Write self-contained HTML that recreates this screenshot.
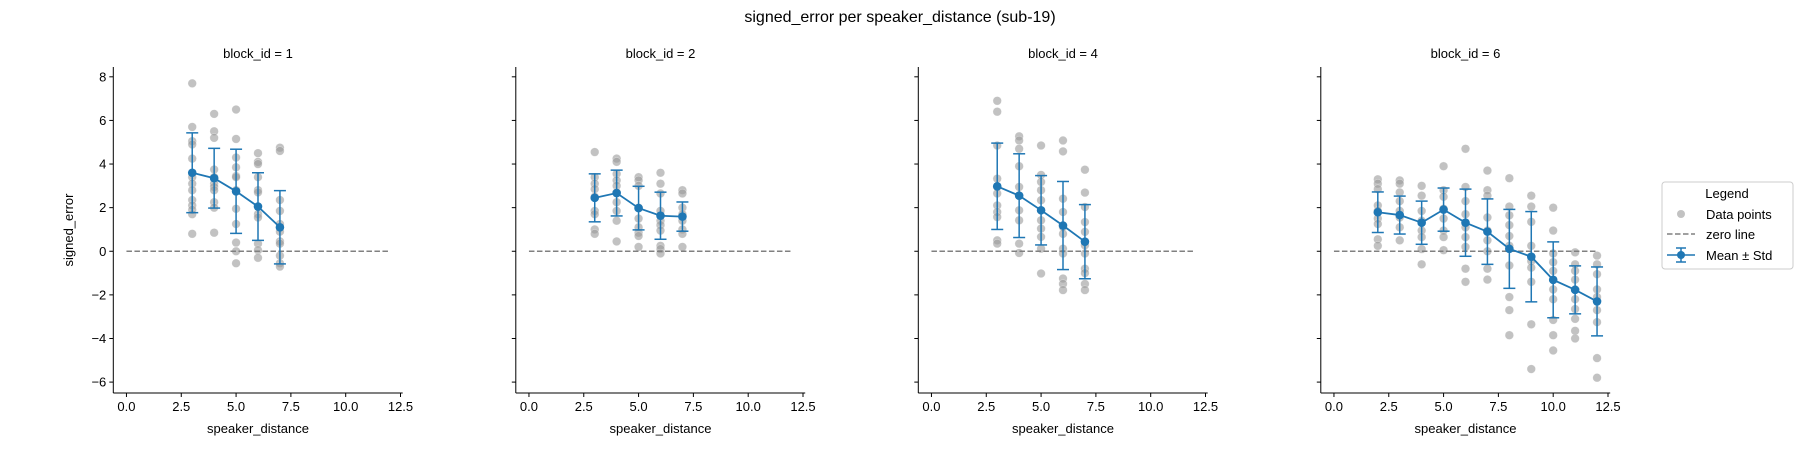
<!DOCTYPE html>
<html><head><meta charset="utf-8"><style>
body{margin:0;background:#fff;}
svg{display:block;font-family:"Liberation Sans","DejaVu Sans",sans-serif;}
</style></head><body>
<svg id="chart" width="1800" height="450">
<text x="900" y="22" text-anchor="middle" font-size="16" fill="#000">signed_error per speaker_distance (sub-19)</text>
<g>
<rect x="1662" y="182" width="131" height="87" rx="3" fill="#fff" stroke="#ccc"/>
<text x="1727" y="198" text-anchor="middle" font-size="13">Legend</text>
<circle cx="1681" cy="214" r="4" fill="#999" fill-opacity="0.6"/>
<text x="1706" y="219" font-size="13">Data points</text>
<line x1="1667" y1="234" x2="1695" y2="234" stroke="#808080" stroke-width="1.5" stroke-dasharray="5.5,2.5"/>
<text x="1706" y="239" font-size="13">zero line</text>
<line x1="1667" y1="255" x2="1695" y2="255" stroke="#1f77b4" stroke-width="1.5"/>
<line x1="1681" y1="248" x2="1681" y2="262" stroke="#1f77b4" stroke-width="1.5"/>
<line x1="1676" y1="248" x2="1686" y2="248" stroke="#1f77b4" stroke-width="1.5"/>
<line x1="1676" y1="262" x2="1686" y2="262" stroke="#1f77b4" stroke-width="1.5"/>
<circle cx="1681" cy="255" r="4" fill="#1f77b4"/>
<text x="1706" y="260" font-size="13">Mean ± Std</text>
</g>
</svg>
<script>
const panelTitles = ["block_id = 1","block_id = 2","block_id = 4","block_id = 6"];
const xTicks = [0,2.5,5,7.5,10,12.5];
const xTickLabels = ["0.0","2.5","5.0","7.5","10.0","12.5"];
const yTicks = [-6,-4,-2,0,2,4,6,8];
const yTickLabels = ["\u22126","\u22124","\u22122","0","2","4","6","8"];
const p1Dist = [3,4,5,6,7];
const p1Points = [
 [7.7,5.7,5.05,4.9,4.25,3.4,3.1,2.8,2.35,2.1,1.9,1.7,0.8],
 [6.3,5.5,5.2,3.75,3.4,3.1,2.95,2.8,2.25,2.0,0.85],
 [6.5,5.15,4.3,3.85,3.45,3.4,2.8,1.95,1.25,0.4,0,-0.55],
 [4.5,4.1,4.0,3.4,2.8,2.7,1.7,1.55,0.35,0.05,-0.3],
 [4.75,4.6,2.35,1.85,1.25,0.9,0.45,0.35,-0.2,-0.55,-0.7]];
const p1Mean = [3.6,3.35,2.75,2.05,1.1];
const p1Std = [1.83,1.37,1.93,1.55,1.68];
const p2Dist = [3,4,5,6,7];
const p2Points = [
 [4.55,3.4,3.1,2.85,2.5,1.85,1.7,1.0,0.8],
 [4.25,4.1,3.55,3.25,3.0,2.7,2.25,1.85,1.4,0.45],
 [3.4,3.25,3.0,2.0,1.5,1.1,0.85,0.7,0.2],
 [3.6,3.1,2.65,1.85,1.4,1.2,0.95,0.25,0.1,-0.1],
 [2.8,2.65,2.0,1.7,1.4,1.0,0.8,0.2]];
const p2Mean = [2.45,2.67,1.98,1.63,1.59];
const p2Std = [1.1,1.05,1.0,1.08,0.67];
const p3Dist = [3,4,5,6,7];
const p3Points = [
 [6.9,6.4,4.85,3.33,2.95,2.65,2.1,1.8,1.57,0.5,0.35],
 [5.27,5.08,4.7,3.9,2.95,2.56,1.88,1.42,0.35,-0.08],
 [4.85,3.5,3.18,2.8,2.34,1.42,1.04,0.66,0.12,-1.02],
 [5.08,4.58,2.41,1.8,1.11,0.8,0.12,-0.1,-1.25,-1.5,-1.78],
 [3.74,2.69,2.03,1.34,0.89,0.27,-0.1,-0.8,-1.0,-1.5,-1.78]];
const p3Mean = [2.98,2.55,1.88,1.18,0.44];
const p3Std = [1.98,1.92,1.59,2.02,1.7];
const p4Dist = [2,3,4,5,6,7,8,9,10,11,12];
const p4Points = [
 [3.3,3.1,2.85,2.1,1.85,1.5,1.25,0.55,0.25],
 [3.25,3.1,2.7,2.3,1.85,1.55,1.1,0.5],
 [3.0,2.55,1.85,1.4,0.95,0.65,0.1,-0.6],
 [3.9,2.8,2.5,1.95,1.5,0.95,0.65,0.05],
 [4.7,2.95,2.3,1.7,1.1,0.65,0.2,-0.8,-1.4],
 [3.7,2.8,2.55,1.55,0.95,0.5,0,-0.8,-1.3],
 [3.35,2.05,1.65,1.2,0.7,0.25,-0.65,-2.1,-2.7,-3.85],
 [2.55,2.05,1.35,0.25,-0.45,-0.75,-1.4,-3.35,-5.4],
 [2.0,0.95,-0.1,-0.5,-0.9,-1.75,-2.2,-3.15,-3.85,-4.55],
 [-0.05,-0.6,-0.9,-1.3,-1.75,-2.2,-2.65,-3.1,-3.65,-4.0],
 [-0.2,-0.6,-1.05,-1.75,-2.1,-2.7,-3.25,-4.9,-5.8]];
const p4Mean = [1.79,1.66,1.31,1.91,1.31,0.9,0.11,-0.25,-1.31,-1.77,-2.3];
const p4Std = [0.93,0.87,0.99,0.99,1.54,1.5,1.81,2.07,1.74,1.1,1.58];
const zeroLineX = [0,12];

const panels = [
 {d:p1Dist,p:p1Points,m:p1Mean,s:p1Std},
 {d:p2Dist,p:p2Points,m:p2Mean,s:p2Std},
 {d:p3Dist,p:p3Points,m:p3Mean,s:p3Std},
 {d:p4Dist,p:p4Points,m:p4Mean,s:p4Std}];

const NS="http://www.w3.org/2000/svg";
const svgEl=document.getElementById('chart');
function mk(tag,attrs,parent){const e=document.createElementNS(NS,tag);for(const k in attrs)e.setAttribute(k,attrs[k]);(parent||svgEl).appendChild(e);return e;}
const X0=-0.6,X1=12.6,Y0=-6.5,Y1=8.45;
const topY=67,bottomY=393,panelW=289.4;
panels.forEach((P,i)=>{
 const left=113.3+i*402.5;
 const sx=v=>left+(v-X0)/(X1-X0)*panelW;
 const sy=v=>bottomY-(v-Y0)/(Y1-Y0)*(bottomY-topY);
 const g=mk('g',{});
 
 
 const t=mk('text',{x:left+panelW/2,y:58,'text-anchor':'middle','font-size':'13'},g);t.textContent=panelTitles[i];
 
 
 const ya=mk('line',{x1:left,y1:topY,x2:left,y2:bottomY,stroke:'#000','stroke-width':1},g);
 
 
 const xa=mk('line',{x1:left,y1:bottomY,x2:left+panelW,y2:bottomY,stroke:'#000','stroke-width':1},g);
 
 
 yTicks.forEach((v,j)=>{
  mk('line',{x1:left-4,y1:sy(v),x2:left,y2:sy(v),stroke:'#000'},g);
  if(i===0){const tl=mk('text',{x:left-7,y:sy(v)+4.5,'text-anchor':'end','font-size':'13'},g);tl.textContent=yTickLabels[j];
   
   }
 });
 xTicks.forEach((v,j)=>{
  mk('line',{x1:sx(v),y1:bottomY,x2:sx(v),y2:bottomY+4,stroke:'#000'},g);
  const tl=mk('text',{x:sx(v),y:bottomY+18,'text-anchor':'middle','font-size':'13'},g);tl.textContent=xTickLabels[j];
  
  
 });
 const xl=mk('text',{x:left+panelW/2,y:433,'text-anchor':'middle','font-size':'13'},g);xl.textContent='speaker_distance';
 
 
 if(i===0){const yl=mk('text',{x:0,y:0,'text-anchor':'middle','font-size':'13',transform:`translate(73,${(topY+bottomY)/2}) rotate(-90)`},g);yl.textContent='signed_error';
  
  }
 P.p.forEach((arr,k)=>arr.forEach(v=>{
  const c=mk('circle',{cx:sx(P.d[k]),cy:sy(v),r:4.3,fill:'#999','fill-opacity':0.6,stroke:'#fff','stroke-opacity':0.5,'stroke-width':0.5},g);
  
  
 }));
 const zl=mk('line',{x1:sx(zeroLineX[0]),y1:sy(0),x2:sx(zeroLineX[1]),y2:sy(0),stroke:'#808080','stroke-width':1.5,'stroke-dasharray':'5.5,2.5'},g);
 
 
 const pl=mk('polyline',{points:P.d.map((d,k)=>sx(d)+','+sy(P.m[k])).join(' '),fill:'none',stroke:'#1f77b4','stroke-width':1.8},g);
 
 
 P.d.forEach((d,k)=>{
  const x=sx(d),lo=sy(P.m[k]-P.s[k]),hi=sy(P.m[k]+P.s[k]);
  const eb=mk('g',{stroke:'#1f77b4','stroke-width':1.5},g);
  
  
  mk('line',{x1:x,y1:lo,x2:x,y2:hi},eb);
  mk('line',{x1:x-6,y1:lo,x2:x+6,y2:lo},eb);
  mk('line',{x1:x-6,y1:hi,x2:x+6,y2:hi},eb);
  const mc=mk('circle',{cx:x,cy:sy(P.m[k]),r:4.3,fill:'#1f77b4'},g);
  
  
 });
});
</script>
</body></html>
